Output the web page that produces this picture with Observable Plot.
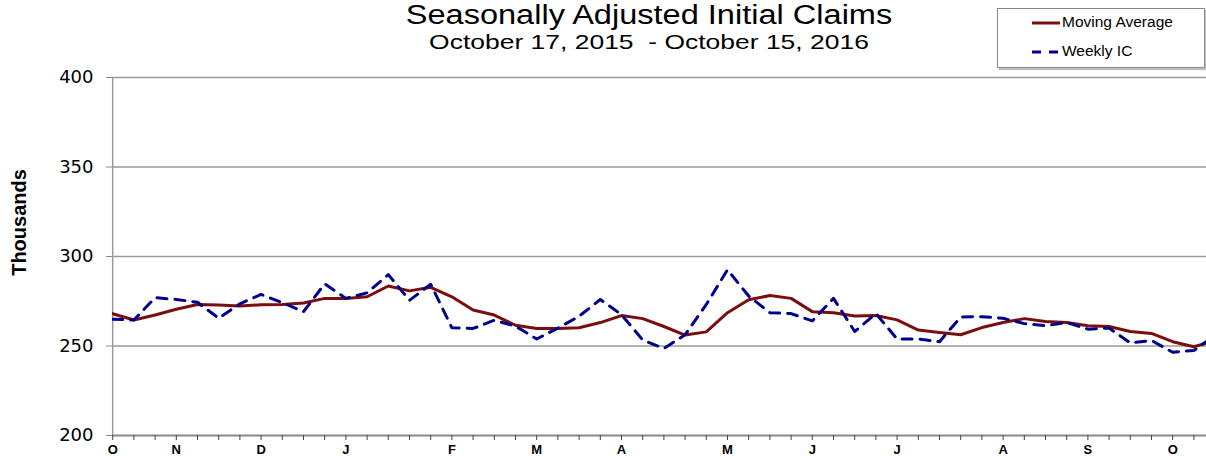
<!DOCTYPE html>
<html>
<head>
<meta charset="utf-8">
<script src="https://cdn.jsdelivr.net/npm/d3@7"></script>
<script src="https://cdn.jsdelivr.net/npm/@observablehq/plot@0.6"></script>
<style>
  html, body { margin: 0; padding: 0; background: #fff; overflow: hidden; }
  #wrap { position: relative; width: 1206px; height: 456px; overflow: hidden; font-family: "Liberation Sans", Arial, sans-serif; }
  #chart { position: absolute; left: 0; top: 0; }
  .title { position: absolute; left: 0; width: 1298px; text-align: center; color: #000; white-space: nowrap; transform-origin: 649px 50%; }
  #t1 { top: 0px; font-size: 27px; line-height: 30px; transform: scaleX(1.205); }
  #t2 { top: 30px; font-size: 21px; line-height: 24px; transform: scaleX(1.26); }
  #legend { position: absolute; left: 997px; top: 8px; width: 206px; height: 58px; border: 1px solid #8a8a8a; box-shadow: 2px 2px 1px #bdbdbd; background: #fff; }
  .li { position: absolute; left: 34px; font-size: 15.5px; color: #000; white-space: nowrap; }
  .li svg { vertical-align: middle; margin-right: 2px; }
</style>
</head>
<body>
<div id="wrap">
  <div id="chart"></div>
  <div class="title" id="t1">Seasonally Adjusted Initial Claims</div>
  <div class="title" id="t2">October 17, 2015&nbsp; - October 15, 2016</div>
  <div id="legend">
    <div class="li" style="top:4px"><svg width="28" height="6"><line x1="0" y1="3" x2="28" y2="3" stroke="#7a0e0e" stroke-width="3"/></svg>Moving Average</div>
    <div class="li" style="top:33px"><svg width="28" height="6"><line x1="0" y1="3" x2="28" y2="3" stroke="#00008b" stroke-width="3" stroke-dasharray="9,8"/></svg>Weekly IC</div>
  </div>
</div>
<script>
// Week-ending dates: Oct 17, 2015 ... Oct 15, 2016 (53 weeks)
const startDate = "2015-10-17";
const weekCount = 53;

// 4-week moving average (thousands)
const movingAverage = [
  268, 264.5, 267.3, 270.5, 273.2, 272.9, 272.3, 273.1, 273.2, 274.0, 276.6, 276.6, 277.5,
  283.5, 280.8, 282.8, 277.5, 270.1, 267.3, 261.6, 259.8, 259.8, 260.2, 263.1, 267.0, 265.3,
  260.9, 256.1, 257.9, 268.6, 275.8, 278.2, 276.6, 269.2, 268.6, 266.8, 267.0, 264.6, 258.9,
  257.6, 256.3, 260.3, 263.1, 265.3, 263.7, 263.1, 261.3, 260.9, 258.1, 257.0, 252.4, 249.6, 253
];

// Weekly initial claims (thousands)
const weeklyIC = [
  265, 264.5, 277, 276, 274.4, 265.5, 273.6, 278.8, 274.2, 269.2, 284.7, 276.6, 279.7,
  289.9, 275.5, 284.5, 260.2, 259.8, 264.4, 261.1, 253.9, 260.0, 266.6, 276.0, 267.5, 253.4,
  248.6, 256.3, 273.2, 292.6, 277.9, 268.6, 268.1, 264.0, 276.6, 258.1, 268.1, 253.9, 253.9,
  252.4, 266.2, 266.4, 265.5, 262.5, 261.3, 263.1, 259.4, 260.0, 251.7, 253.1, 246.5, 247.5, 256
];

const yTicks = [200, 250, 300, 350, 400];
const gridValues = [250, 300, 350, 400];
const monthInitials = ["J","F","M","A","M","J","J","A","S","O","N","D"];

const start = new Date(startDate + "T00:00:00Z");
const dates = d3.range(weekCount).map(i => d3.utcDay.offset(start, 7 * i));
const data = dates.map((d, i) => ({date: d, ma: movingAverage[i], ic: weeklyIC[i]}));
// label ticks: first week-ending date of each month
const monthTicks = dates.filter(d => d.getUTCDate() <= 7 || +d === +start);

const W = 1206, H = 456;
const x0 = 112.2, step = 21.2;

const chart = Plot.plot({
  width: W,
  height: H,
  marginLeft: 112,
  marginRight: 0,
  marginTop: 77,
  marginBottom: 21,
  style: {fontFamily: "'Liberation Sans', Arial, sans-serif", background: "transparent", overflow: "hidden"},
  x: {type: "utc", domain: [dates[0], dates[weekCount - 1]], range: [x0, x0 + step * (weekCount - 1)]},
  y: {domain: [200, 400]},
  marks: [
    Plot.ruleY(gridValues, {stroke: "#9a9a9a", strokeWidth: 1.5}),
    Plot.ruleX([dates[0]], {y1: 200, y2: 400, stroke: "#9a9a9a", strokeWidth: 1.5}),
    Plot.line(data, {x: "date", y: "ma", stroke: "#7a0e0e", strokeWidth: 3, clip: true}),
    Plot.line(data, {x: "date", y: "ic", stroke: "#00008b", strokeWidth: 3, strokeDasharray: "10,8", clip: true}),
    Plot.ruleY([200], {stroke: "#8a8a8a", strokeWidth: 2}),
    Plot.axisY({ticks: yTicks, tickSize: 6, tickPadding: 13, fontSize: 18, fontFamily: "'DejaVu Sans', sans-serif", stroke: "#8a8a8a", fill: "#000", label: null}),
    Plot.axisX({ticks: dates, tickSize: 5, tickFormat: () => "", stroke: "#444", label: null}),
    Plot.axisX({ticks: monthTicks, tickSize: 0, tickPadding: 9, fontSize: 13, fontWeight: "bold", fill: "#000",
      tickFormat: d => monthInitials[d.getUTCMonth()], label: null}),
    Plot.text(["Thousands"], {frameAnchor: "left", textAnchor: "middle", dx: -93, dy: -34, rotate: -90, fontSize: 20, fontWeight: "bold", fill: "#000"})
  ]
});
document.getElementById("chart").appendChild(chart);
</script>
</body>
</html>
